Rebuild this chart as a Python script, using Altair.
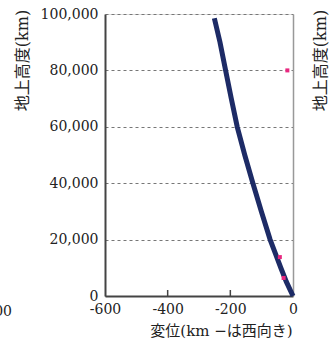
import altair as alt
import pandas as pd

# trajectory (displacement km, altitude km)
heights = [0, 5000, 10000, 15000, 20000, 30000, 40000, 50000, 60000, 70000, 80000, 90000, 98500]
disp = [0, -21, -39, -56, -73, -101, -128, -154, -178, -197, -215, -233, -251]

# magenta markers (mostly hidden by the line)
pink_h = [80000, 13800, 6400]
pink_d = [-18, -42, -30]

x_ticks = [-600, -400, -200, 0]
y_ticks = [0, 20000, 40000, 60000, 80000, 100000]
inner_ticks = [-400, -200]

line_df = pd.DataFrame({"d": disp, "h": heights})
pink_df = pd.DataFrame({"d": pink_d, "h": pink_h})
tick_df = pd.DataFrame({"d": inner_ticks})

NUM_FONT = "DejaVu Serif"
TXT_FONT = "DejaVu Serif, Noto Sans CJK JP"

xscale = alt.Scale(domain=[-600, 0], nice=False, zero=False)
yscale = alt.Scale(domain=[0, 100000], nice=False)

x_axis = alt.Axis(
    values=x_ticks, labelExpr="'' + datum.value", ticks=False, grid=False,
    domainColor="#444", domainWidth=2, labelFont=NUM_FONT, labelFontSize=14,
    labelColor="#222", labelPadding=6, labelFlush=False,
    title="変位(km −は西向き)", titleFont=TXT_FONT, titleFontSize=15,
    titleFontWeight="normal", titleColor="#222", titleX=116, titleY=34,
    titleBaseline="middle", titleAlign="center",
)

y_axis = alt.Axis(
    values=y_ticks, labelExpr="format(datum.value, ',')", ticks=False, grid=True,
    gridColor="#777", gridDash=[3, 3], gridWidth=1, domainColor="#444",
    domainWidth=2, labelFont=NUM_FONT, labelFontSize=14, labelColor="#222",
    labelPadding=7, labelFlush=False,
    title="地上高度(km)", titleFont=TXT_FONT, titleFontSize=16,
    titleFontWeight="normal", titleColor="#222", titleAngle=270,
    titleX=-83, titleY=46, titleAlign="center", titleBaseline="middle",
)

y_axis_right = alt.Axis(
    orient="right", values=y_ticks, labels=False, ticks=False, grid=False,
    domainColor="#999", domainWidth=1.5,
    title="地上高度(km)", titleFont=TXT_FONT, titleFontSize=16,
    titleFontWeight="normal", titleColor="#222", titleAngle=270,
    titleX=27, titleY=46, titleAlign="center", titleBaseline="middle",
)

pink = alt.Chart(pink_df).mark_square(color="#e8277f", size=16, opacity=1).encode(
    x=alt.X("d:Q", scale=xscale, axis=x_axis),
    y=alt.Y("h:Q", scale=yscale, axis=y_axis_right),
)

line = alt.Chart(line_df).mark_line(color="#1d2b66", strokeWidth=5).encode(
    x=alt.X("d:Q", scale=xscale, axis=x_axis),
    y=alt.Y("h:Q", scale=yscale, axis=y_axis),
    order="h:Q",
)

ticks = alt.Chart(tick_df).mark_rule(color="#444", strokeWidth=1.5).encode(
    x=alt.X("d:Q", scale=xscale, axis=x_axis),
    y=alt.value(282),
    y2=alt.value(276),
)

frag = alt.Chart(pd.DataFrame({"t": ["-600"]})).mark_text(
    font=NUM_FONT, fontSize=14, color="#222", align="right", baseline="middle"
).encode(text="t:N", x=alt.value(-93), y=alt.value(298))

chart = alt.layer(line, pink, ticks, frag).resolve_scale(y="independent").properties(
    width=188, height=282,
    autosize=alt.AutoSizeParams(type="none"),
    padding={"left": 105, "top": 14, "right": 38, "bottom": 45},
).configure_view(stroke=None).configure(background="white")

chart.save("out.html", embed_options={"renderer": "svg", "actions": False})
